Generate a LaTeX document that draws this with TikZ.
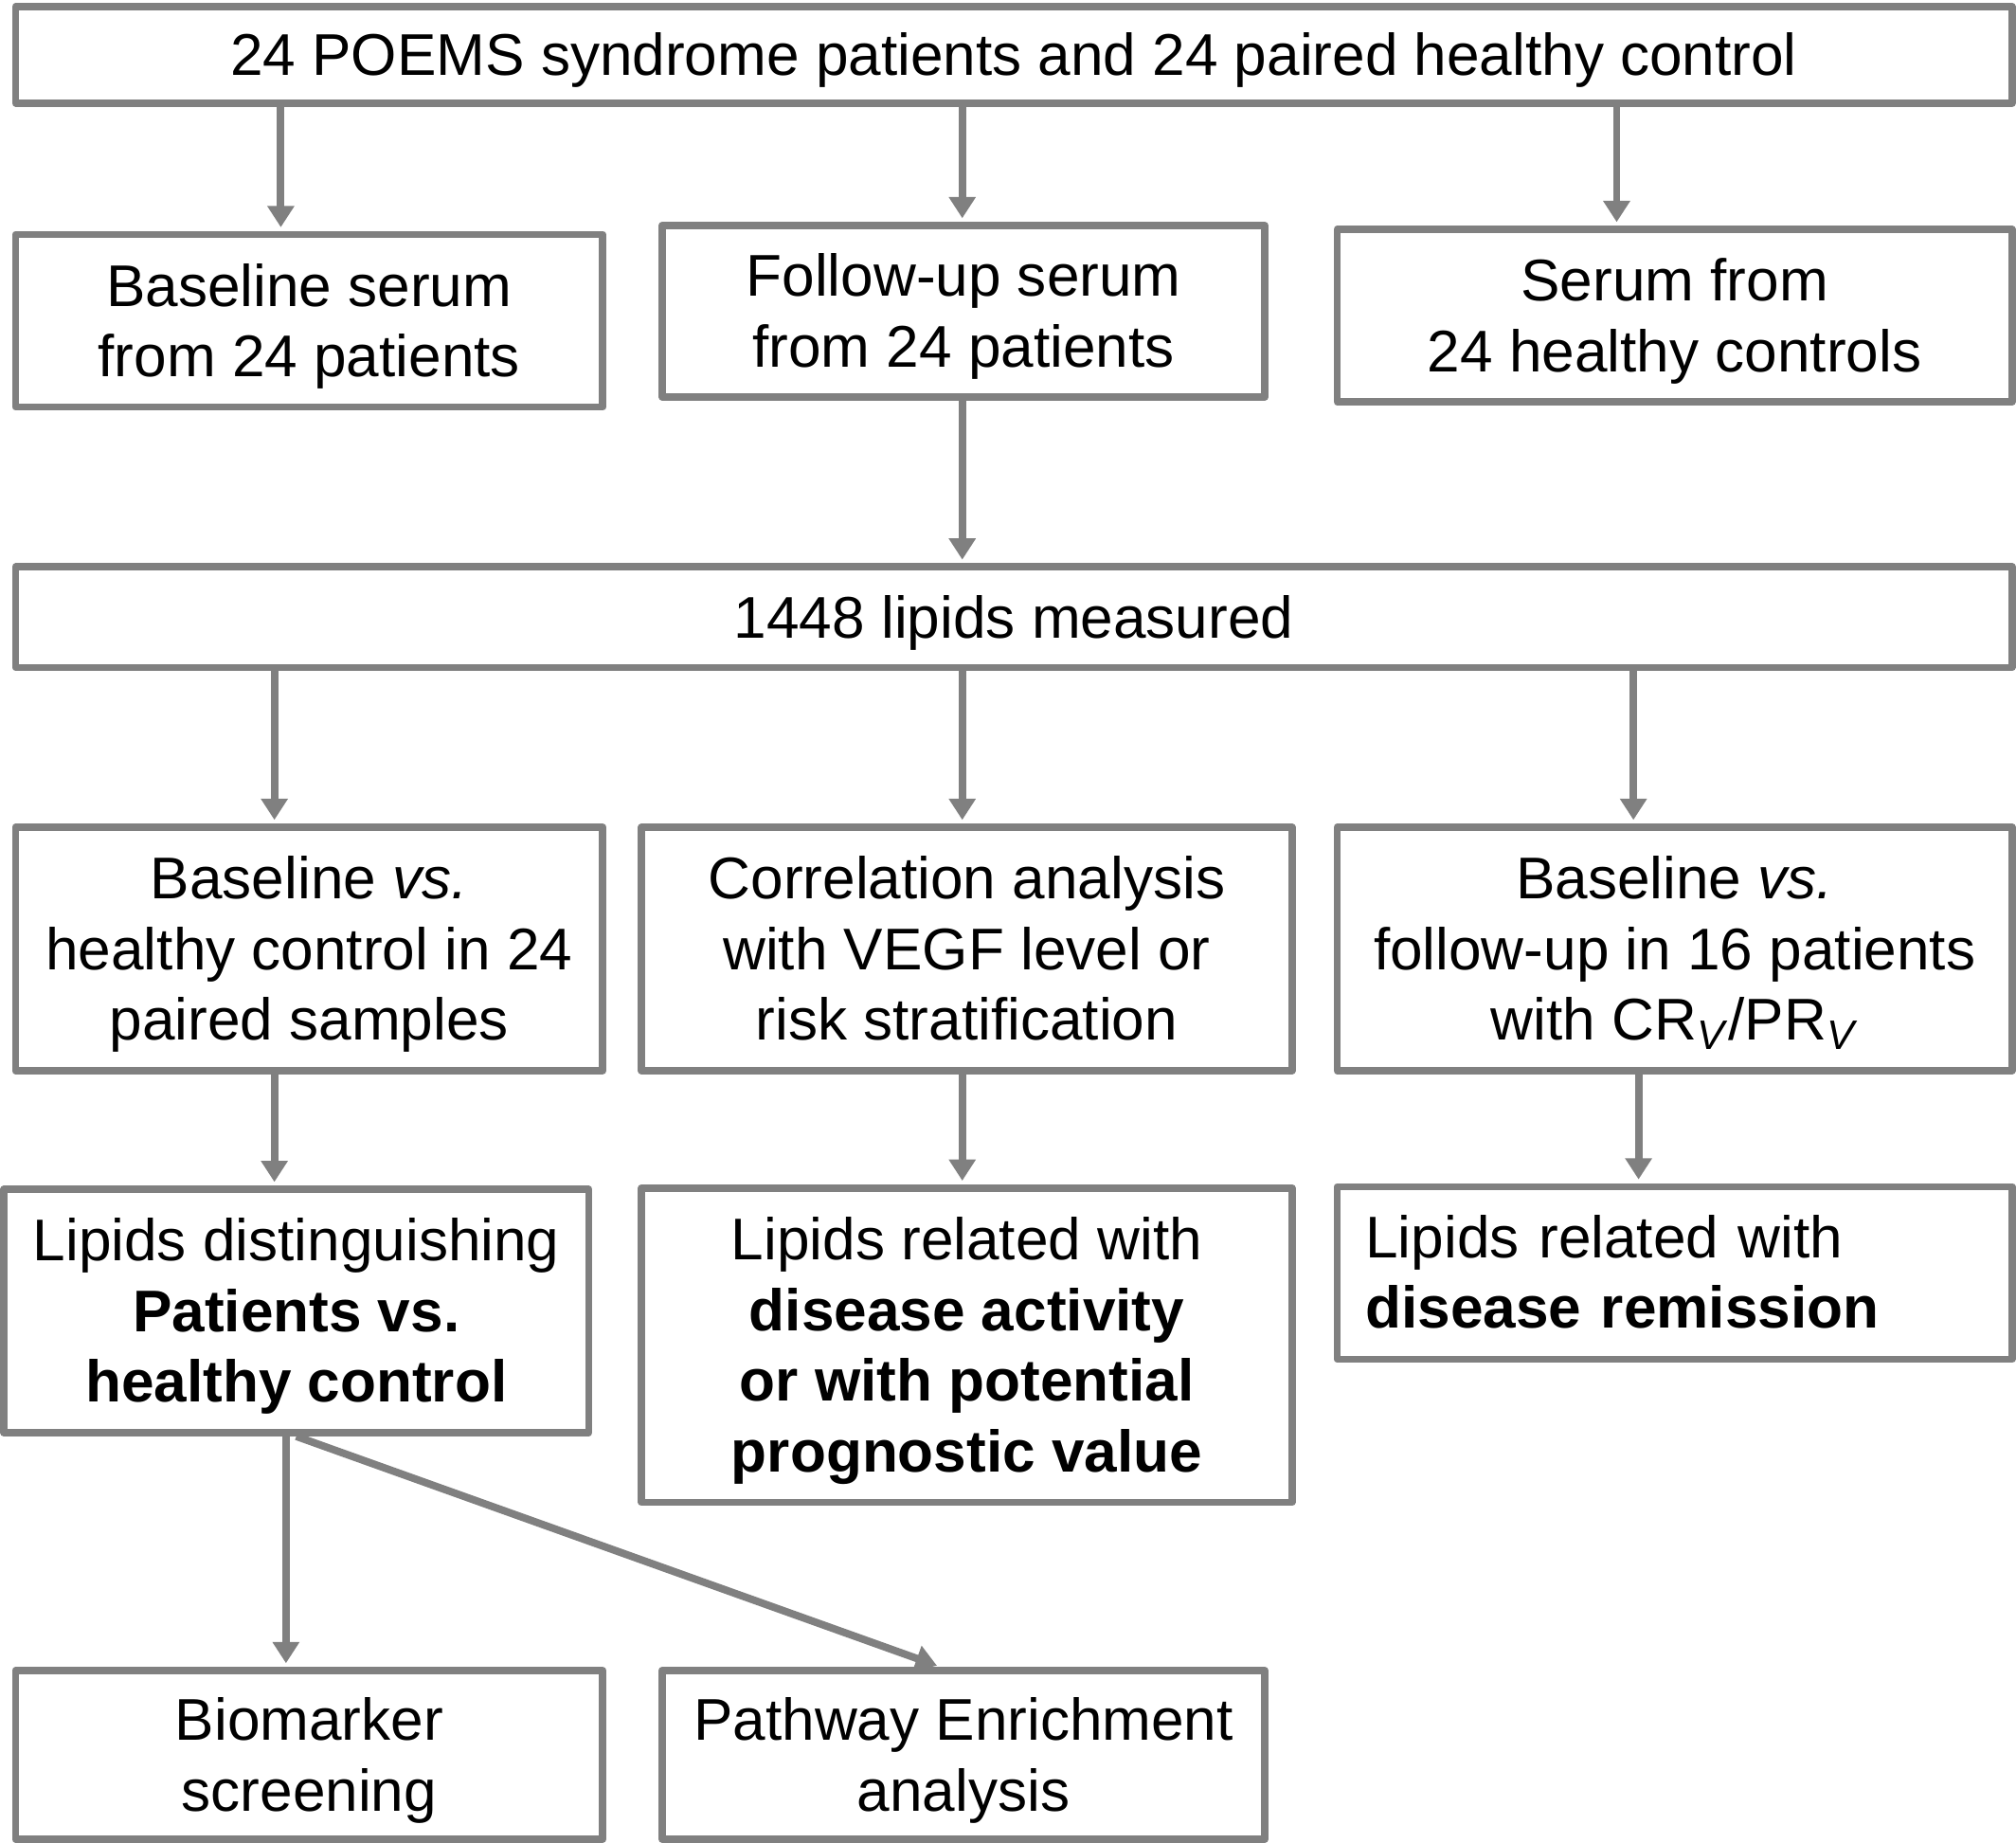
\documentclass[tikz,border=0pt]{standalone}
\usepackage{fontspec}
\setmainfont{Liberation Sans}
\usetikzlibrary{arrows.meta}
\definecolor{lc}{HTML}{808080}
\newcommand{\ctxt}[1]{\raisebox{-2.9pt}[\height][\depth]{\begin{tabular}{@{}c@{}}#1\end{tabular}}}
\newcommand{\ltxt}[1]{\raisebox{-2.6pt}[\height][\depth]{\begin{tabular}{@{}l@{}}#1\end{tabular}}}
\begin{document}
\begin{tikzpicture}[x=0.02cm,y=-0.02cm,
  box/.style={draw=lc, line width=3.2pt, line join=round, inner sep=0pt,
    font=\fontsize{26}{31.2}\selectfont, text=black},
  arr/.style={draw=lc, line width=3.3pt, shorten >=1.6pt,
    -{Triangle[width=0.4cm,length=0.33cm]}}]
\useasboundingbox (0,0) rectangle (1565,1429.7);
% row 1
\node[box, minimum width=31cm, minimum height=1.5cm] (top) at (787,42.5)
  {\ctxt{24 POEMS syndrome patients and 24 paired healthy control}};
% row 2
\node[box, minimum width=9.12cm, minimum height=2.68cm] (b1) at (240,249)
  {\ctxt{Baseline serum\\from 24 patients}};
\node[box, minimum width=9.36cm, minimum height=2.66cm] (b2) at (748,241.5)
  {\ctxt{Follow-up serum\\from 24 patients}};
\node[box, minimum width=10.48cm, minimum height=2.68cm] (b3) at (1300,245)
  {\ctxt{Serum from\\24 healthy controls}};
% row 3
\node[box, minimum width=31cm, minimum height=1.56cm] (lip) at (787,479)
  {\ctxt{1448 lipids measured}};
% row 4
\node[box, minimum width=9.12cm, minimum height=3.78cm] (c1) at (240,736.5)
  {\ctxt{Baseline \textit{vs.}\\healthy control in 24\\paired samples}};
\node[box, minimum width=10.1cm, minimum height=3.78cm] (c2) at (750.5,736.5)
  {\ctxt{Correlation analysis\\with VEGF level or\\risk stratification}};
\node[box, minimum width=10.48cm, minimum height=3.78cm] (c3) at (1300,736.5)
  {\ctxt{Baseline \textit{vs.}\\follow-up in 16 patients\\with CR\textsubscript{\textit{V}}/PR\textsubscript{\textit{V}}}};
% row 5
\node[box, minimum width=9.08cm, minimum height=3.78cm] (d1) at (230,1017.5)
  {\ctxt{Lipids distinguishing\\\textbf{Patients vs.}\\\textbf{healthy control}}};
\node[box, minimum width=10.1cm, minimum height=4.88cm] (d2) at (750.5,1044)
  {\ctxt{Lipids related with\\\textbf{disease activity}\\\textbf{or with potential}\\\textbf{prognostic value}}};
\node[box, text width=9.6cm, inner xsep=0.44cm, align=left, minimum height=2.68cm] (d3) at (1300,988)
  {\ltxt{Lipids related with\\\textbf{disease remission}}};
% row 6
\node[box, minimum width=9.12cm, minimum height=2.62cm] (e1) at (240,1362)
  {\ctxt{Biomarker\\screening}};
\node[box, minimum width=9.36cm, minimum height=2.62cm] (e2) at (748,1362)
  {\ctxt{Pathway Enrichment\\analysis}};
% arrow x positions
\coordinate (x218) at (218,0);
\coordinate (x747) at (747,0);
\coordinate (x1255) at (1255,0);
\coordinate (x213) at (213,0);
\coordinate (x1268) at (1268,0);
\coordinate (x1272) at (1272,0);
\coordinate (x222) at (222,0);
\coordinate (x230) at (230,0);
\coordinate (x730) at (730,0);
% arrows
\draw[arr] (top.south -| x218) -- (b1.north -| x218);
\draw[arr] (top.south -| x747) -- (b2.north -| x747);
\draw[arr] (top.south -| x1255) -- (b3.north -| x1255);
\draw[arr] (b2.south -| x747) -- (lip.north -| x747);
\draw[arr] (lip.south -| x213) -- (c1.north -| x213);
\draw[arr] (lip.south -| x747) -- (c2.north -| x747);
\draw[arr] (lip.south -| x1268) -- (c3.north -| x1268);
\draw[arr] (c1.south -| x213) -- (d1.north -| x213);
\draw[arr] (c2.south -| x747) -- (d2.north -| x747);
\draw[arr] (c3.south -| x1272) -- (d3.north -| x1272);
\draw[arr] (d1.south -| x222) -- (e1.north -| x222);
\draw[arr] (d1.south -| x230) -- (e2.north -| x730);
\end{tikzpicture}
\end{document}
